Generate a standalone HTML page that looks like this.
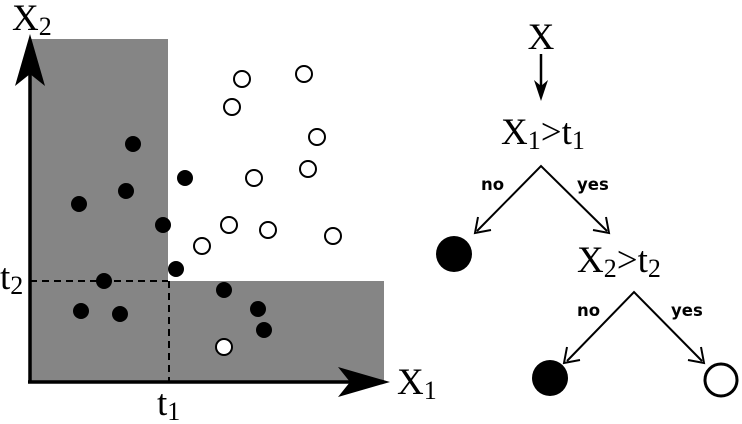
<!DOCTYPE html>
<html><head><style>body{margin:0;background:#fff}svg{display:block}.s{font-family:"Liberation Serif",serif}.b{font-family:"DejaVu Sans",sans-serif;font-weight:bold;font-size:16.5px}</style></head><body>
<svg width="742" height="424" viewBox="0 0 742 424" xmlns="http://www.w3.org/2000/svg">
<path d="M30 39H168V281H384V382H30Z" fill="#858585"/>
<g stroke="#000" stroke-width="2" stroke-dasharray="7,5" fill="none">
<line x1="30" y1="281" x2="168" y2="281"/><line x1="169" y1="281" x2="169" y2="382"/></g>
<g stroke="#000" stroke-width="3.5"><line x1="30" y1="383" x2="30" y2="60"/><line x1="28" y1="382" x2="370" y2="382"/></g>
<path d="M30 34L45 86L30 74L15 86Z"/><path d="M390 382L338 367L350 382L338 397Z"/>
<text class="s" x="12" y="30" font-size="37">X<tspan font-size="26" dy="5">2</tspan></text>
<text class="s" x="0" y="289" font-size="37">t<tspan font-size="26" dy="5">2</tspan></text>
<text class="s" x="157" y="415" font-size="37">t<tspan font-size="26" dy="5">1</tspan></text>
<text class="s" x="397" y="394" font-size="37">X<tspan font-size="26" dy="5">1</tspan></text>
<g fill="#000">
<circle cx="133" cy="144" r="8"/><circle cx="126" cy="191" r="8"/><circle cx="79" cy="204" r="8"/><circle cx="185" cy="178" r="8"/><circle cx="163" cy="225" r="8"/><circle cx="176" cy="269" r="8"/><circle cx="104" cy="281" r="8"/><circle cx="81" cy="311" r="8"/><circle cx="120" cy="314" r="8"/><circle cx="224" cy="290" r="8"/><circle cx="258" cy="309" r="8"/><circle cx="264" cy="330" r="8"/></g>
<g fill="#fff" stroke="#000" stroke-width="2">
<circle cx="242" cy="79" r="8"/><circle cx="304" cy="74" r="8"/><circle cx="232" cy="107" r="8"/><circle cx="317" cy="137" r="8"/><circle cx="254" cy="178" r="8"/><circle cx="308" cy="169" r="8"/><circle cx="229" cy="225" r="8"/><circle cx="268" cy="230" r="8"/><circle cx="202" cy="246" r="8"/><circle cx="333" cy="236" r="8"/><circle cx="224" cy="347" r="8"/></g>
<text class="s" x="541" y="49" font-size="37" text-anchor="middle">X</text>
<line x1="541" y1="54" x2="541" y2="90" stroke="#000" stroke-width="2.5"/><path d="M541 101L534 80L541 86L548 80Z"/>
<text class="s" x="501" y="144" font-size="37">X<tspan font-size="26" dy="5">1</tspan><tspan dy="-5">&gt;t</tspan><tspan font-size="26" dy="5">1</tspan></text>
<g stroke="#000" stroke-width="2" fill="none">
<path d="M477 231L541 166L607 231"/><path d="M567 361L634 292L702 361"/>
<path d="M478 217L475 233L491 230"/><path d="M606 217L609 233L593 230"/>
<path d="M567 347L564 363L580 360"/><path d="M701 347L704 363L688 360"/></g>
<text class="b" x="481" y="190">no</text><text class="b" x="577" y="190">yes</text>
<text class="b" x="577" y="316">no</text><text class="b" x="671" y="316">yes</text>
<circle cx="454" cy="254" r="18"/>
<text class="s" x="577" y="272" font-size="37">X<tspan font-size="26" dy="5">2</tspan><tspan dy="-5">&gt;t</tspan><tspan font-size="26" dy="5">2</tspan></text>
<circle cx="550" cy="378" r="18"/>
<circle cx="721" cy="380" r="16" fill="#fff" stroke="#000" stroke-width="3"/>
</svg></body></html>
